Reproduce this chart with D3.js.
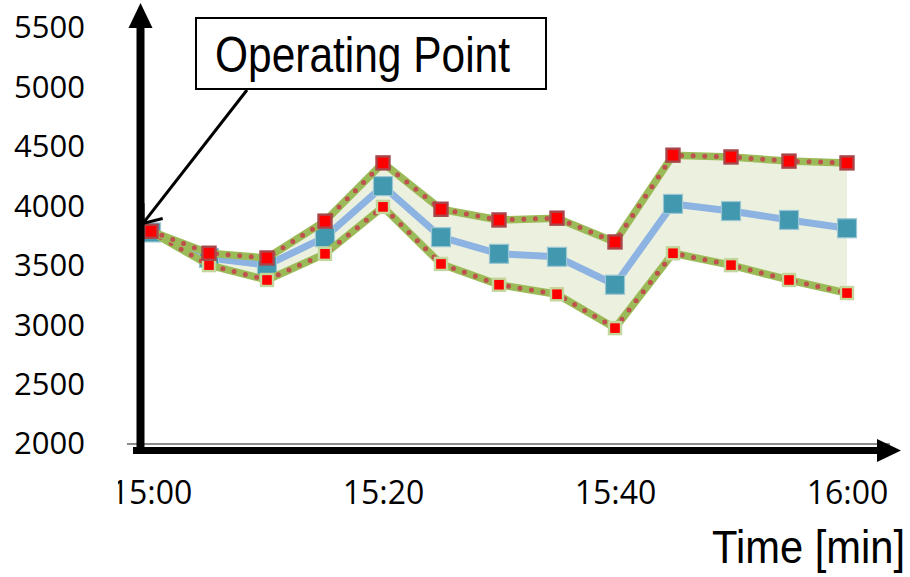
<!DOCTYPE html>
<html>
<head>
<meta charset="utf-8">
<script src="https://cdn.jsdelivr.net/npm/d3@7"></script>
<style>
  body { margin: 0; background: #fff; }
  svg { display: block; }
</style>
</head>
<body>
<div id="chart"></div>
<script>
// values
const times = ["15:00", "15:05", "15:10", "15:15", "15:20", "15:25", "15:30",
               "15:35", "15:40", "15:45", "15:50", "15:55", "16:00"];
const operating = [3780, 3565, 3505, 3740, 4170, 3740, 3600, 3575, 3340, 4020, 3960, 3885, 3815];
const upperBound = [3790, 3605, 3565, 3875, 4365, 3975, 3885, 3900, 3700, 4430, 4415, 4380, 4365];
const lowerBound = [3785, 3505, 3380, 3600, 3995, 3515, 3340, 3260, 2975, 3605, 3505, 3380, 3270];
const yTicks = [2000, 2500, 3000, 3500, 4000, 4500, 5000, 5500];
const xTicks = ["15:00", "15:20", "15:40", "16:00"];

const width = 910, height = 577;
const parse = d3.timeParse("%H:%M");

const rows = times.map((t, i) => ({
  t: parse(t), mid: operating[i], hi: upperBound[i], lo: lowerBound[i]
}));

const x = d3.scaleTime()
  .domain([parse("15:00"), parse("16:00")])
  .range([151, 847]);

const y = d3.scaleLinear()
  .domain([2000, 5500])
  .range([444, 28]);

const svg = d3.select("#chart").append("svg")
  .attr("width", width)
  .attr("height", height);

const defs = svg.append("defs");
// clip is in the x-axis group's own coordinates
defs.append("clipPath").attr("id", "xclip")
  .append("rect").attr("x", 118).attr("y", 0).attr("width", 800).attr("height", 90);
defs.append("marker")
  .attr("id", "openArrow")
  .attr("markerUnits", "userSpaceOnUse")
  .attr("viewBox", "-22 -14 24 28")
  .attr("refX", 0).attr("refY", 0)
  .attr("markerWidth", 24).attr("markerHeight", 28)
  .attr("orient", "auto")
  .append("path")
  .attr("d", "M-16,-12.5 L0,0 L-16,12.5")
  .attr("fill", "none")
  .attr("stroke", "#000")
  .attr("stroke-width", 3);

// Y axis labels
const yAxis = svg.append("g")
  .attr("transform", "translate(88,0)")
  .call(d3.axisLeft(y).tickValues(yTicks).tickFormat(d3.format("d"))
    .tickSize(0).tickPadding(3));
yAxis.select(".domain").remove();
yAxis.selectAll("text")
  .attr("font-family", "'Open Sans', sans-serif")
  .attr("font-size", 31)
  .attr("fill", "#000");

// X axis labels (first one is cut at the left like in the source)
const xAxis = svg.append("g")
  .attr("transform", `translate(0,${y(2000)})`)
  .attr("clip-path", "url(#xclip)")
  .call(d3.axisBottom(x).tickValues(xTicks.map(parse))
    .tickFormat(d3.timeFormat("%H:%M")).tickSize(0).tickPadding(37));
xAxis.select(".domain").remove();
xAxis.selectAll("text")
  .attr("font-family", "'Open Sans', sans-serif")
  .attr("font-size", 32)
  .attr("fill", "#000");

// gray baseline at 2000
svg.append("line")
  .attr("x1", 127).attr("x2", 890)
  .attr("y1", y(2000)).attr("y2", y(2000))
  .attr("stroke", "#8c8c8c")
  .attr("stroke-width", 2);

// band between bounds
svg.append("path")
  .datum(rows)
  .attr("fill", "#ebf1de")
  .attr("d", d3.area().x(d => x(d.t)).y0(d => y(d.lo)).y1(d => y(d.hi)));

// operating point line
svg.append("path")
  .datum(rows)
  .attr("fill", "none")
  .attr("stroke", "#8db3e2")
  .attr("stroke-width", 7)
  .attr("stroke-linejoin", "round")
  .attr("d", d3.line().x(d => x(d.t)).y(d => y(d.mid)));

svg.selectAll(".mid")
  .data(rows)
  .enter().append("rect")
  .attr("class", "mid")
  .attr("x", d => x(d.t) - 9.5)
  .attr("y", d => y(d.mid) - 9.5)
  .attr("width", 19).attr("height", 19)
  .attr("fill", "#4198af")
  .attr("stroke", "#9cc6d3")
  .attr("stroke-width", 1.2);

// bound lines: green band with dotted red line on top
function boundLine(key, markStroke, size) {
  const line = d3.line().x(d => x(d.t)).y(d => y(d[key]));
  svg.append("path")
    .datum(rows)
    .attr("fill", "none")
    .attr("stroke", "#9bbb59")
    .attr("stroke-width", 7.5)
    .attr("stroke-linejoin", "round")
    .attr("d", line);
  svg.append("path")
    .datum(rows)
    .attr("fill", "none")
    .attr("stroke", "#c0504d")
    .attr("stroke-width", 5)
    .attr("stroke-linecap", "round")
    .attr("stroke-dasharray", "0 11.6")
    .attr("d", line);
  svg.selectAll(".m-" + key)
    .data(rows)
    .enter().append("rect")
    .attr("class", "m-" + key)
    .attr("x", d => x(d.t) - size / 2)
    .attr("y", d => y(d[key]) - size / 2)
    .attr("width", size).attr("height", size)
    .attr("fill", "#ff0000")
    .attr("stroke", markStroke)
    .attr("stroke-width", 2.4);
}
boundLine("lo", "#c3d69b", 12);
boundLine("hi", "#a8464a", 13);

// thick axis arrows
svg.append("line")
  .attr("x1", 140.5).attr("x2", 140.5)
  .attr("y1", 454).attr("y2", 26)
  .attr("stroke", "#000").attr("stroke-width", 8);
svg.append("path")
  .attr("d", "M128.5,28 L140.5,3 L152.5,28 Z")
  .attr("fill", "#000");
svg.append("line")
  .attr("x1", 133).attr("x2", 879)
  .attr("y1", 450.5).attr("y2", 450.5)
  .attr("stroke", "#000").attr("stroke-width", 7);
svg.append("path")
  .attr("d", "M877,439 L901,450.5 L877,462 Z")
  .attr("fill", "#000");

// callout box
svg.append("rect")
  .attr("x", 196).attr("y", 18)
  .attr("width", 350).attr("height", 71)
  .attr("fill", "#fff")
  .attr("stroke", "#000")
  .attr("stroke-width", 2);
svg.append("text")
  .attr("x", 215).attr("y", 72)
  .attr("font-family", "'Liberation Sans', Arial, sans-serif")
  .attr("font-size", 50)
  .attr("textLength", 295)
  .attr("lengthAdjust", "spacingAndGlyphs")
  .text("Operating Point");

// callout arrow pointing at the first operating point
svg.append("line")
  .attr("x1", 247).attr("y1", 90)
  .attr("x2", x(rows[0].t) - 8).attr("y2", y(rows[0].mid) - 9)
  .attr("stroke", "#000")
  .attr("stroke-width", 3)
  .attr("marker-end", "url(#openArrow)");

// axis title
svg.append("text")
  .attr("x", 712).attr("y", 563)
  .attr("font-family", "'Liberation Sans', Arial, sans-serif")
  .attr("font-size", 46)
  .attr("textLength", 193)
  .attr("lengthAdjust", "spacingAndGlyphs")
  .text("Time [min]");
</script>
</body>
</html>
